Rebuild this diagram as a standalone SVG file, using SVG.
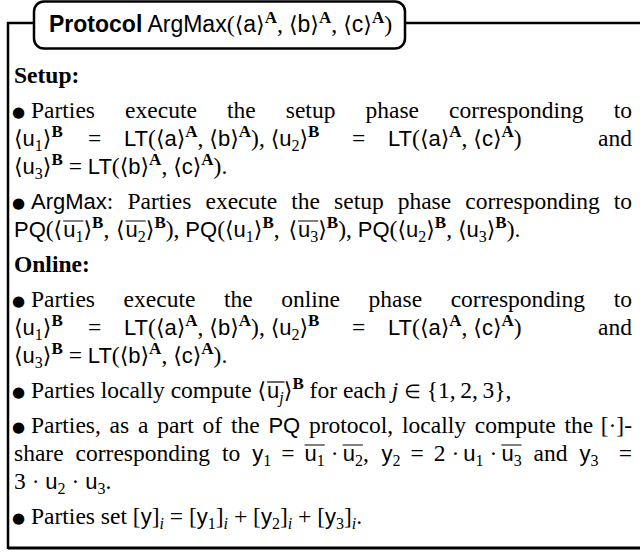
<svg xmlns="http://www.w3.org/2000/svg" width="640" height="552" viewBox="0 0 640 552">
<style>
.frame{fill:none;stroke:#000;stroke-width:2.5}
.t{font-family:"Liberation Serif","Times New Roman",serif;font-size:23.5px;fill:#000}
.h{font-family:"Liberation Sans",Arial,sans-serif;font-size:23px;fill:#000}
.hb{font-weight:bold}
.bd{font-weight:bold}
.r{font-family:"Liberation Serif","Times New Roman",serif;font-size:24px}
.sf{font-family:"Liberation Sans",Arial,sans-serif;font-size:22px}
.a{font-family:"DejaVu Sans",sans-serif;font-size:22px}
.sc{font-size:16px}
.it{font-style:italic}
.sup{font-family:"Liberation Serif","Times New Roman",serif;font-size:17px;font-weight:bold}
.bl{font-family:"DejaVu Sans",sans-serif;font-size:15px}
.el{font-family:"DejaVu Sans",sans-serif;font-size:19px}
.ol{stroke:#000;stroke-width:1.2;fill:none}
</style>
<rect width="640" height="552" fill="#fff"/>
<g id="frame">
<path class="frame" d="M8,549 V23 H34"/>
<path class="frame" d="M405,23 H640"/>
<rect class="frame" x="34" y="1.5" width="371" height="47" rx="10"/>
<path d="M8,548 H640" stroke="#000" stroke-width="3"/>
</g>
<g id="title">
<text class="h" x="49" y="32"><tspan class="hb">Protocol</tspan> ArgMax<tspan class="r">(</tspan><tspan class="a">⟨</tspan>a<tspan class="a">⟩</tspan><tspan class="sup" dy="-9">A</tspan><tspan class="r" dy="9">, </tspan><tspan class="a">⟨</tspan>b<tspan class="a">⟩</tspan><tspan class="sup" dy="-9">A</tspan><tspan class="r" dy="9">, </tspan><tspan class="a">⟨</tspan>c<tspan class="a">⟩</tspan><tspan class="sup" dy="-9">A</tspan><tspan class="r" dy="9">)</tspan></text>
</g>
<g id="setup">
<text class="t bd" x="14" y="83">Setup:</text>
<text class="t" y="118"><tspan x="12" class="bl" dy="-1">●</tspan><tspan x="31" dy="1">Parties</tspan><tspan x="125.1">execute</tspan><tspan x="227">the</tspan><tspan x="285.8">setup</tspan><tspan x="365.5">phase</tspan><tspan x="449.1">corresponding</tspan><tspan x="613.7">to</tspan></text>
<text class="t" y="146"><tspan x="14" class="a">⟨</tspan><tspan class="sf">u</tspan><tspan class="sc" dy="5">1</tspan><tspan class="a" dy="-5">⟩</tspan><tspan class="sup" dy="-9">B</tspan><tspan x="88" dy="9">=</tspan><tspan x="124" class="sf">LT</tspan>(<tspan class="a">⟨</tspan><tspan class="sf">a</tspan><tspan class="a">⟩</tspan><tspan class="sup" dy="-9">A</tspan><tspan dy="9">, </tspan><tspan class="a">⟨</tspan><tspan class="sf">b</tspan><tspan class="a">⟩</tspan><tspan class="sup" dy="-9">A</tspan><tspan dy="9">), </tspan><tspan class="a">⟨</tspan><tspan class="sf">u</tspan><tspan class="sc" dy="5">2</tspan><tspan class="a" dy="-5">⟩</tspan><tspan class="sup" dy="-9">B</tspan><tspan x="352" dy="9">=</tspan><tspan x="388" class="sf">LT</tspan>(<tspan class="a">⟨</tspan><tspan class="sf">a</tspan><tspan class="a">⟩</tspan><tspan class="sup" dy="-9">A</tspan><tspan dy="9">, </tspan><tspan class="a">⟨</tspan><tspan class="sf">c</tspan><tspan class="a">⟩</tspan><tspan class="sup" dy="-9">A</tspan><tspan dy="9">)</tspan><tspan x="598.1">and</tspan></text>
<text class="t" y="174"><tspan x="14" class="a">⟨</tspan><tspan class="sf">u</tspan><tspan class="sc" dy="5">3</tspan><tspan class="a" dy="-5">⟩</tspan><tspan class="sup" dy="-9">B</tspan><tspan dy="9"> = </tspan><tspan class="sf">LT</tspan>(<tspan class="a">⟨</tspan><tspan class="sf">b</tspan><tspan class="a">⟩</tspan><tspan class="sup" dy="-9">A</tspan><tspan dy="9">, </tspan><tspan class="a">⟨</tspan><tspan class="sf">c</tspan><tspan class="a">⟩</tspan><tspan class="sup" dy="-9">A</tspan><tspan dy="9">).</tspan></text>
<text class="t" y="209"><tspan x="12" class="bl" dy="-1">●</tspan><tspan x="31" class="sf" dy="1">ArgMax</tspan>:<tspan x="127.4">Parties</tspan><tspan x="205.5">execute</tspan><tspan x="291.3">the</tspan><tspan x="334.1">setup</tspan><tspan x="397.7">phase</tspan><tspan x="465.3">corresponding</tspan><tspan x="613.7">to</tspan></text>
<text class="t" y="237"><tspan x="14" class="sf">PQ</tspan>(<tspan x="53.6" class="a">⟨</tspan><tspan x="63.2" class="sf">u</tspan><tspan class="sc" dy="5">1</tspan><tspan class="a" dy="-5">⟩</tspan><tspan class="sup" dy="-9">B</tspan><tspan dy="9">, </tspan><tspan x="116" class="a">⟨</tspan><tspan x="125.6" class="sf">u</tspan><tspan class="sc" dy="5">2</tspan><tspan class="a" dy="-5">⟩</tspan><tspan class="sup" dy="-9">B</tspan><tspan dy="9">), </tspan><tspan class="sf">PQ</tspan>(<tspan class="a">⟨</tspan><tspan class="sf">u</tspan><tspan class="sc" dy="5">1</tspan><tspan class="a" dy="-5">⟩</tspan><tspan class="sup" dy="-9">B</tspan><tspan dy="9">, </tspan><tspan x="288.4" class="a">⟨</tspan><tspan x="298" class="sf">u</tspan><tspan class="sc" dy="5">3</tspan><tspan class="a" dy="-5">⟩</tspan><tspan class="sup" dy="-9">B</tspan><tspan dy="9">), </tspan><tspan class="sf">PQ</tspan>(<tspan class="a">⟨</tspan><tspan class="sf">u</tspan><tspan class="sc" dy="5">2</tspan><tspan class="a" dy="-5">⟩</tspan><tspan class="sup" dy="-9">B</tspan><tspan dy="9">, </tspan><tspan class="a">⟨</tspan><tspan class="sf">u</tspan><tspan class="sc" dy="5">3</tspan><tspan class="a" dy="-5">⟩</tspan><tspan class="sup" dy="-9">B</tspan><tspan dy="9">).</tspan></text>
<path class="ol" d="M63.2,221 H83.4 M125.6,221 H145.8 M298,221 H318.2"/>
</g>
<g id="online">
<text class="t bd" x="14" y="272">Online:</text>
<text class="t" y="307"><tspan x="12" class="bl" dy="-1">●</tspan><tspan x="31" dy="1">Parties</tspan><tspan x="123.6">execute</tspan><tspan x="224">the</tspan><tspan x="281.3">online</tspan><tspan x="368.6">phase</tspan><tspan x="450.7">corresponding</tspan><tspan x="613.7">to</tspan></text>
<text class="t" y="335"><tspan x="14" class="a">⟨</tspan><tspan class="sf">u</tspan><tspan class="sc" dy="5">1</tspan><tspan class="a" dy="-5">⟩</tspan><tspan class="sup" dy="-9">B</tspan><tspan x="88" dy="9">=</tspan><tspan x="124" class="sf">LT</tspan>(<tspan class="a">⟨</tspan><tspan class="sf">a</tspan><tspan class="a">⟩</tspan><tspan class="sup" dy="-9">A</tspan><tspan dy="9">, </tspan><tspan class="a">⟨</tspan><tspan class="sf">b</tspan><tspan class="a">⟩</tspan><tspan class="sup" dy="-9">A</tspan><tspan dy="9">), </tspan><tspan class="a">⟨</tspan><tspan class="sf">u</tspan><tspan class="sc" dy="5">2</tspan><tspan class="a" dy="-5">⟩</tspan><tspan class="sup" dy="-9">B</tspan><tspan x="352" dy="9">=</tspan><tspan x="388" class="sf">LT</tspan>(<tspan class="a">⟨</tspan><tspan class="sf">a</tspan><tspan class="a">⟩</tspan><tspan class="sup" dy="-9">A</tspan><tspan dy="9">, </tspan><tspan class="a">⟨</tspan><tspan class="sf">c</tspan><tspan class="a">⟩</tspan><tspan class="sup" dy="-9">A</tspan><tspan dy="9">)</tspan><tspan x="598.1">and</tspan></text>
<text class="t" y="363"><tspan x="14" class="a">⟨</tspan><tspan class="sf">u</tspan><tspan class="sc" dy="5">3</tspan><tspan class="a" dy="-5">⟩</tspan><tspan class="sup" dy="-9">B</tspan><tspan dy="9"> = </tspan><tspan class="sf">LT</tspan>(<tspan class="a">⟨</tspan><tspan class="sf">b</tspan><tspan class="a">⟩</tspan><tspan class="sup" dy="-9">A</tspan><tspan dy="9">, </tspan><tspan class="a">⟨</tspan><tspan class="sf">c</tspan><tspan class="a">⟩</tspan><tspan class="sup" dy="-9">A</tspan><tspan dy="9">).</tspan></text>
<text class="t" y="398"><tspan x="12" class="bl" dy="-1">●</tspan><tspan x="31" dy="1">Parties locally compute </tspan><tspan x="257.5" class="a">⟨</tspan><tspan x="267.1" class="sf">u</tspan><tspan class="sc it" dy="5">j</tspan><tspan class="a" dy="-5">⟩</tspan><tspan class="sup" dy="-9">B</tspan><tspan dy="9"> for each </tspan><tspan class="it">j</tspan> <tspan class="el">∈</tspan> {1,&#8201;2,&#8201;3},</text>
<path class="ol" d="M267.1,382 H284.5"/>
<text class="t" y="433"><tspan x="12" class="bl" dy="-1">●</tspan><tspan x="31" dy="1">Parties,</tspan><tspan x="109.6">as</tspan><tspan x="138">a</tspan><tspan x="157.2">part</tspan><tspan x="202.5">of</tspan><tspan x="230.9">the</tspan><tspan x="268.4" class="sf">PQ</tspan><tspan x="309">protocol,</tspan><tspan x="402">locally</tspan><tspan x="474.8">compute</tspan><tspan x="564.5">the</tspan></text>
<text class="t" x="632" y="433" text-anchor="end">[·]-</text>
<text class="t" y="461"><tspan x="14">share</tspan><tspan x="75.6">corresponding</tspan><tspan x="222">to</tspan><tspan x="252.3" class="sf">y</tspan><tspan class="sc" dy="5">1</tspan><tspan x="281.3" dy="-5">=</tspan><tspan x="304.6" class="sf">u</tspan><tspan class="sc" dy="5">1</tspan><tspan x="330.8" dy="-5">·</tspan><tspan x="342.7" class="sf">u</tspan><tspan class="sc" dy="5">2</tspan><tspan dy="-5">,</tspan><tspan x="381.4" class="sf">y</tspan><tspan class="sc" dy="5">2</tspan><tspan x="410.4" dy="-5">=</tspan><tspan x="433.7">2</tspan><tspan x="451.4">·</tspan><tspan x="463.3" class="sf">u</tspan><tspan class="sc" dy="5">1</tspan><tspan x="489.5" dy="-5">·</tspan><tspan x="501.4" class="sf">u</tspan><tspan class="sc" dy="5">3</tspan><tspan x="533.6" dy="-5">and</tspan><tspan x="579.5" class="sf">y</tspan><tspan class="sc" dy="5">3</tspan><tspan x="618.7" dy="-5">=</tspan></text>
<path class="ol" d="M304.6,445 H324.8 M342.7,445 H362.9 M501.4,445 H521.6"/>
<text class="t" y="489"><tspan x="14">3 · </tspan><tspan class="sf">u</tspan><tspan class="sc" dy="5">2</tspan><tspan dy="-5"> · </tspan><tspan class="sf">u</tspan><tspan class="sc" dy="5">3</tspan><tspan dy="-5">.</tspan></text>
<text class="t" y="524"><tspan x="12" class="bl" dy="-1">●</tspan><tspan x="31" dy="1">Parties set [</tspan><tspan class="sf">y</tspan>]<tspan class="sc it" dy="5">i</tspan><tspan dy="-5"> = [</tspan><tspan class="sf">y</tspan><tspan class="sc" dy="5">1</tspan><tspan dy="-5">]</tspan><tspan class="sc it" dy="5">i</tspan><tspan dy="-5"> + [</tspan><tspan class="sf">y</tspan><tspan class="sc" dy="5">2</tspan><tspan dy="-5">]</tspan><tspan class="sc it" dy="5">i</tspan><tspan dy="-5"> + [</tspan><tspan class="sf">y</tspan><tspan class="sc" dy="5">3</tspan><tspan dy="-5">]</tspan><tspan class="sc it" dy="5">i</tspan><tspan dy="-5">.</tspan></text>
</g>
</svg>
